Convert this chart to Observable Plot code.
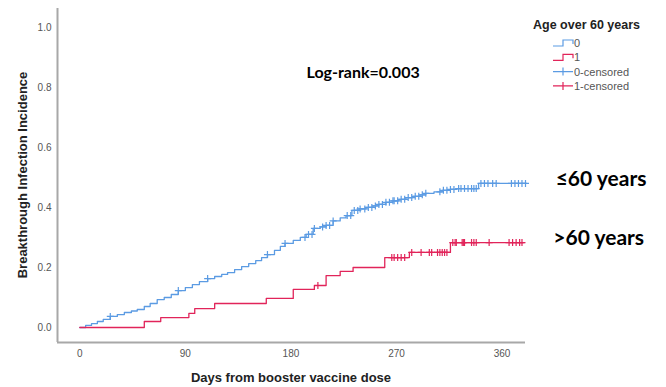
<!DOCTYPE html>
<html><head><meta charset="utf-8">
<script src="https://cdn.jsdelivr.net/npm/d3@7"></script>
<script src="https://cdn.jsdelivr.net/npm/@observablehq/plot@0.6"></script>
<style>
body{margin:0;background:#fff;}
#chart{position:relative;width:666px;height:387px;}
</style>
</head><body><div id="chart"></div>
<script>
// ---- data ----
const groups = ["0", "1"];
const censorLabels = ["0-censored", "1-censored"];
const groupLabels = ["≤60 years", ">60 years"];
const legendTitle = "Age over 60 years";
const logRankText = "Log-rank=0.003";
const xTitle = "Days from booster vaccine dose";
const yTitle = "Breakthrough Infection Incidence";
const xTicks = [0, 90, 180, 270, 360];
const yTicks = [0, 0.2, 0.4, 0.6, 0.8, 1.0];
const xDomain = [-19, 380];
const yDomain = [-0.05, 1.063];

// group 0 (age <= 60) event times and cumulative incidence
const days0 = [0,5,10,15,20,26,32,38,44,49,55,60,66,72,78,84,90,96,102,109,115,121,126,132,138,144,150,155,160,166,171,175,182,188,193,199,205,210,216,222,227,232,238,244,250,255,261,267,272,278,284,290,295,302,309,316,321,340,381];
const inc0  = [0,0.007,0.013,0.02,0.027,0.037,0.043,0.05,0.055,0.06,0.07,0.08,0.093,0.10,0.11,0.123,0.133,0.143,0.153,0.163,0.17,0.177,0.183,0.193,0.203,0.213,0.223,0.233,0.243,0.257,0.27,0.28,0.29,0.30,0.31,0.33,0.335,0.34,0.355,0.365,0.373,0.39,0.395,0.40,0.405,0.41,0.417,0.422,0.427,0.433,0.437,0.442,0.447,0.452,0.457,0.46,0.463,0.48,0.48];
// group 1 (age > 60)
const days1 = [0,55,69,93,98,115,159,182,200,210,222,233,260,281,316,379];
const inc1  = [0,0.02,0.033,0.047,0.063,0.08,0.097,0.127,0.14,0.173,0.187,0.2,0.233,0.25,0.283,0.283];
// censored times
const cens0 = [26,84,109,160,175,192,195,198,200,207,210,213,216,228,231,234,237,239,243,246,249,252,255,258,261,264,267,268,271,274,277,280,283,286,289,292,295,307,310,313,316,319,323,325,328,331,334,336,338,342,345,348,352,355,368,371,374,377,380];
const cens1 = [203,266,268,271,274,277,283,291,298,300,305,307,309,311,313,318,320,321,326,327,328,334,336,338,349,366,369,372,375,377];

const colors = ["#5b9be3", "#e1245a"];

function valueAt(days, inc, t) {
  let v = 0;
  for (let i = 0; i < days.length; i++) if (days[i] <= t) v = inc[i];
  return v;
}
const curve0 = days0.map((d, i) => ({day: d, inc: inc0[i], g: groups[0]}));
const curve1 = days1.map((d, i) => ({day: d, inc: inc1[i], g: groups[1]}));
const curves = curve0.concat(curve1);
const censors = cens0.map(t => ({day: t, inc: valueAt(days0, inc0, t), g: groups[0]}))
  .concat(cens1.map(t => ({day: t, inc: valueAt(days1, inc1, t), g: groups[1]})));
const ends = [
  {day: curve0[curve0.length-1].day, inc: curve0[curve0.length-1].inc, label: groupLabels[0]},
  {day: curve1[curve1.length-1].day, inc: curve1[curve1.length-1].inc, label: groupLabels[1]}
];

const crossSymbol = {
  draw(ctx, size) {
    const r = Math.sqrt(size / Math.PI);
    ctx.moveTo(0, -r); ctx.lineTo(0, r);
    ctx.moveTo(-r, 0); ctx.lineTo(r, 0);
  }
};

const plot = Plot.plot({
  width: 666,
  height: 387,
  marginTop: 8,
  marginLeft: 57,
  marginRight: 141,
  marginBottom: 45,
  style: {fontFamily: "'Liberation Sans', Arial, sans-serif", background: "#fff"},
  x: {domain: xDomain, ticks: xTicks, tickSize: 0, tickPadding: 7, label: null, tickFormat: d => d},
  y: {domain: yDomain, ticks: yTicks, tickSize: 0, tickPadding: 6, label: null, tickFormat: d3.format(".1f")},
  color: {domain: groups, range: colors},
  marks: [
    Plot.ruleX([xDomain[0]], {stroke: "#a8a8a8", strokeWidth: 2}),
    Plot.ruleY([yDomain[0]], {stroke: "#a8a8a8", strokeWidth: 2}),
    Plot.line(curves, {x: "day", y: "inc", z: "g", stroke: d => d.g, curve: "step-after", strokeWidth: 1.3}),
    Plot.dot(censors, {x: "day", y: "inc", stroke: d => d.g, fill: "none", symbol: crossSymbol, r: 3.5, strokeWidth: 1.2}),
    Plot.text(ends, {x: "day", y: "inc", text: "label", textAnchor: "start", dx: 29, dy: -4, fontSize: 21, fontWeight: "bold", fontFamily: "Lato, 'Open Sans', sans-serif", fill: "#000"}),
    Plot.text([logRankText], {frameAnchor: "top-left", dx: 249, dy: 58, textAnchor: "start", fontSize: 16, fontWeight: "bold", fontFamily: "Lato, 'Open Sans', sans-serif", fill: "#000"})
  ]
});

document.getElementById("chart").appendChild(plot);
const svg = d3.select(plot);
svg.selectAll("g[aria-label^='x-axis'] text, g[aria-label^='y-axis'] text").attr("fill", "#555").style("font-size", "10px");

// axis titles
svg.append("text").attr("x", 291).attr("y", 382).attr("text-anchor", "middle")
  .attr("font-size", 13).attr("font-weight", "bold").attr("fill", "#222").text(xTitle);
svg.append("text").attr("transform", "translate(27,175) rotate(-90)").attr("text-anchor", "middle")
  .attr("font-size", 13).attr("font-weight", "bold").attr("fill", "#222").text(yTitle);

// legend
const lg = svg.append("g").attr("font-family", "'Liberation Sans', Arial, sans-serif").attr("text-anchor", "start");
lg.append("text").attr("x", 533).attr("y", 29).attr("font-size", 12.5).attr("font-weight", "bold").attr("fill", "#222").text(legendTitle);
const items = [
  {label: groups[0], color: colors[0], kind: "step"},
  {label: groups[1], color: colors[1], kind: "step"},
  {label: censorLabels[0], color: colors[0], kind: "cross"},
  {label: censorLabels[1], color: colors[1], kind: "cross"}
];
items.forEach((it, i) => {
  const cy = 43 + i * 14.3;
  if (it.kind === "step") {
    lg.append("path").attr("d", `M553,${cy+3}H563V${cy-3}H573V${cy+1}`).attr("fill", "none").attr("stroke", it.color).attr("stroke-width", 1.2);
  } else {
    lg.append("path").attr("d", `M553,${cy}H573M563,${cy-4}V${cy+4}`).attr("fill", "none").attr("stroke", it.color).attr("stroke-width", 1.2);
  }
  lg.append("text").attr("x", 574).attr("y", cy + 4).attr("font-size", 11).attr("fill", "#555").attr("text-anchor", "start").text(it.label);
});
</script>
</body></html>
